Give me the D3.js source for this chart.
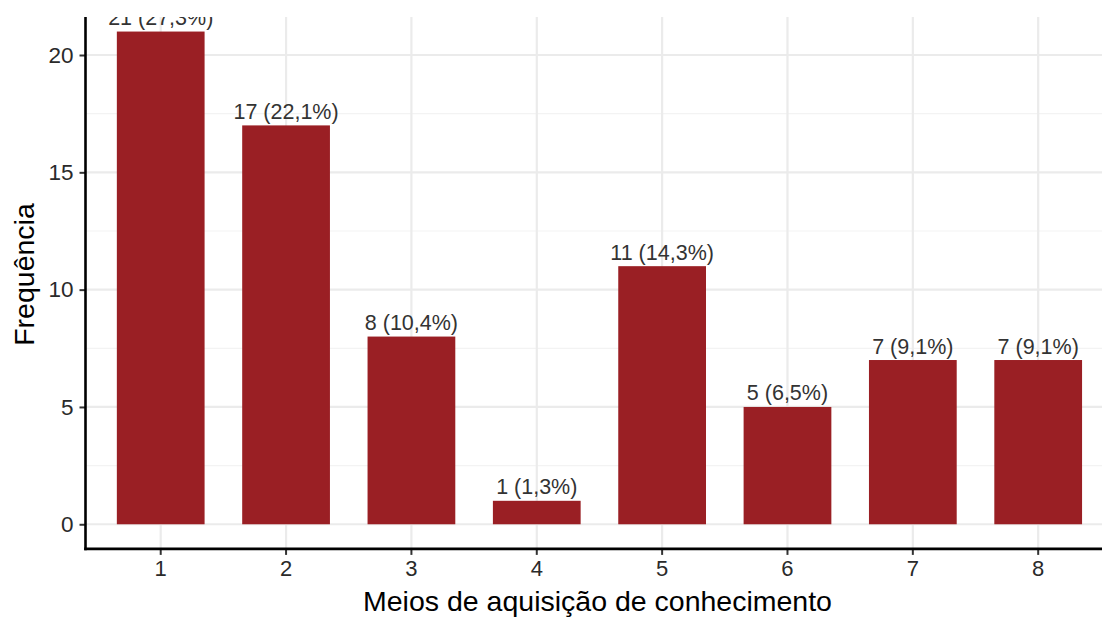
<!DOCTYPE html>
<html><head><meta charset="utf-8">
<script src="https://cdn.jsdelivr.net/npm/d3@7"></script>
<style>body{margin:0;background:#fff}svg{display:block}text{font-family:"Liberation Sans",Arial,sans-serif}</style>
</head><body><svg id="c" width="1102" height="617"></svg>
<script>
const categories = ["1","2","3","4","5","6","7","8"];
const counts = [21,17,8,1,11,5,7,7];
const labels = ["21 (27,3%)","17 (22,1%)","8 (10,4%)","1 (1,3%)","11 (14,3%)","5 (6,5%)","7 (9,1%)","7 (9,1%)"];
const yTicks = [0,5,10,15,20];
const yMinor = [2.5,7.5,12.5,17.5];
const xTitle = "Meios de aquisição de conhecimento";
const yTitle = "Frequência";

const svg = d3.select("#c");
const L = 85.5, R = 1113.4, T = 17, B = 548.9;
const x = d3.scaleBand().domain(categories).range([L, R]).paddingOuter(0.25).paddingInner(0.3).align(0.5);
const y = d3.scaleLinear().domain([-1.05, 21.62]).range([B, T]);

// grid
const g = svg.append("g");
g.selectAll(".ymin").data(yMinor).join("line")
  .attr("x1", L).attr("x2", 1102).attr("y1", d=>y(d)).attr("y2", d=>y(d))
  .attr("stroke", "#f3f3f3").attr("stroke-width", 1.2);
g.selectAll(".ymaj").data(yTicks).join("line")
  .attr("x1", L).attr("x2", 1102).attr("y1", d=>y(d)).attr("y2", d=>y(d))
  .attr("stroke", "#ebebeb").attr("stroke-width", 2.2);
g.selectAll(".xmaj").data(categories).join("line")
  .attr("x1", d=>x(d)+x.bandwidth()/2).attr("x2", d=>x(d)+x.bandwidth()/2).attr("y1", T).attr("y2", B)
  .attr("stroke", "#ebebeb").attr("stroke-width", 2.2);

// bars
svg.append("defs").append("clipPath").attr("id","clip").append("rect")
  .attr("x", L).attr("y", T).attr("width", R-L).attr("height", B-T);
const plot = svg.append("g").attr("clip-path","url(#clip)");
plot.selectAll("rect.bar").data(counts).join("rect").attr("class","bar")
  .attr("x", (d,i)=>x(categories[i])).attr("width", x.bandwidth())
  .attr("y", d=>y(d)).attr("height", d=>y(0)-y(d))
  .attr("fill", "#9a1f24");
plot.selectAll("text.lab").data(counts).join("text").attr("class","lab")
  .attr("x", (d,i)=>x(categories[i])+x.bandwidth()/2)
  .attr("y", d=>y(d)-6.5)
  .attr("text-anchor","middle").attr("font-size", 21.5).attr("fill","#333")
  .text((d,i)=>labels[i]);

// axes
const yAxis = d3.axisLeft(y).tickValues(yTicks).tickSize(6).tickPadding(6);
const ya = svg.append("g").attr("transform", `translate(${L},0)`).call(yAxis);
ya.select(".domain").remove();
ya.selectAll(".tick line").attr("stroke","#333").attr("stroke-width",2);
ya.selectAll(".tick text").attr("font-size",22.5).attr("fill","#2a2a2a").attr("font-family","Liberation Sans, Arial, sans-serif");

const xAxis = d3.axisBottom(x).tickSize(6).tickPadding(5);
const xa = svg.append("g").attr("transform", `translate(0,${B})`).call(xAxis);
xa.select(".domain").remove();
xa.selectAll(".tick line").attr("stroke","#333").attr("stroke-width",2);
xa.selectAll(".tick text").attr("font-size",22).attr("fill","#2a2a2a").attr("font-family","Liberation Sans, Arial, sans-serif");

// axis lines
svg.append("line").attr("x1", L).attr("x2", L).attr("y1", T).attr("y2", B+1.3).attr("stroke","#000").attr("stroke-width",2.6);
svg.append("line").attr("x1", L-1.3).attr("x2", 1102).attr("y1", B).attr("y2", B).attr("stroke","#000").attr("stroke-width",2.6);

// titles
svg.append("text").attr("x", (363+832)/2).attr("y", 611).attr("text-anchor","middle")
  .attr("font-size", 28.5).attr("fill","#000").text(xTitle);
svg.append("text").attr("transform", `translate(34,${(201+348)/2}) rotate(-90)`).attr("text-anchor","middle")
  .attr("font-size", 28.5).attr("fill","#000").text(yTitle);
</script></body></html>
